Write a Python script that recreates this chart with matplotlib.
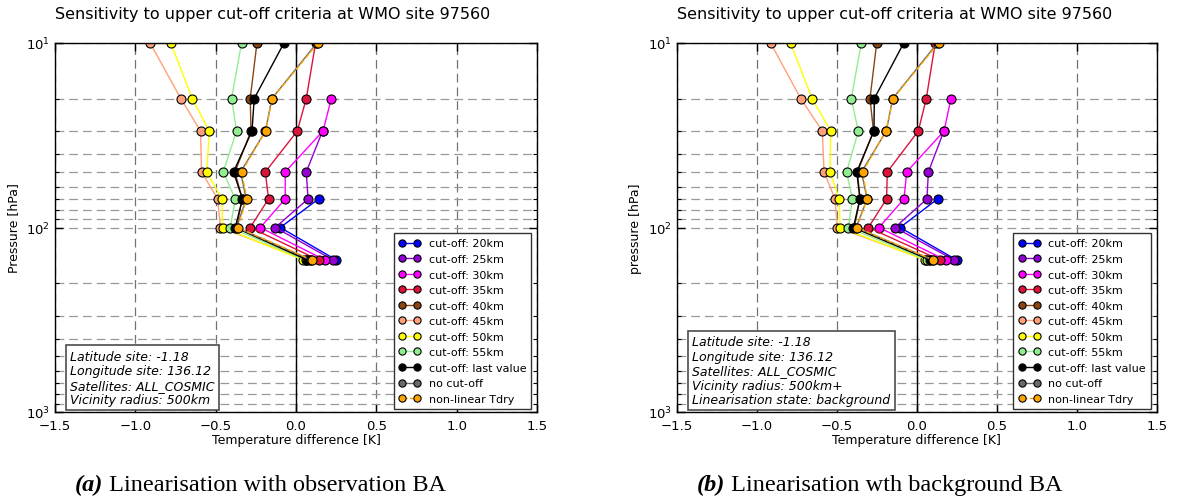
import numpy as np
import matplotlib
matplotlib.use('Agg')
import matplotlib.pyplot as plt
from matplotlib.ticker import LogLocator, NullFormatter

nan = np.nan

# ---------------- data ----------------
pressure_levels = [10, 20, 30, 50, 70, 100, 150]  # hPa

series_labels = ['cut-off: 20km', 'cut-off: 25km', 'cut-off: 30km', 'cut-off: 35km',
                 'cut-off: 40km', 'cut-off: 45km', 'cut-off: 50km', 'cut-off: 55km',
                 'cut-off: last value', 'no cut-off', 'non-linear Tdry']
series_colors = ['#0000ff', '#9400d3', '#ff00ff', '#dc143c', '#8b4513', '#ffa07a',
                 '#ffff00', '#90ee90', '#000000', '#696969', '#ffa500']

# (a) linearisation with observation BA
obs_cut20 = [nan, nan, nan, nan, 0.141, -0.098, 0.251]
obs_cut25 = [nan, nan, 0.165, 0.064, 0.075, -0.129, 0.230]
obs_cut30 = [nan, 0.220, 0.168, -0.067, -0.067, -0.222, 0.180]
obs_cut35 = [0.122, 0.064, 0.008, -0.191, -0.171, -0.285, 0.141]
obs_cut40 = [-0.243, -0.285, -0.280, -0.380, -0.335, -0.370, 0.085]
obs_cut45 = [-0.908, -0.717, -0.594, -0.588, -0.488, -0.470, 0.060]
obs_cut50 = [-0.779, -0.646, -0.540, -0.555, -0.461, -0.457, 0.045]
obs_cut55 = [-0.339, -0.401, -0.370, -0.453, -0.378, -0.409, 0.060]
obs_last = [-0.075, -0.260, -0.274, -0.389, -0.333, -0.378, 0.070]
obs_nocut = [0.130, -0.150, -0.190, -0.345, -0.310, -0.370, 0.095]
obs_nonlin = [0.137, -0.148, -0.189, -0.339, -0.305, -0.364, 0.100]

# (b) linearisation with background BA
bg_cut20 = [nan, nan, nan, nan, 0.131, -0.104, 0.250]
bg_cut25 = [nan, nan, 0.170, 0.073, 0.064, -0.136, 0.233]
bg_cut30 = [nan, 0.214, 0.171, -0.063, -0.079, -0.236, 0.181]
bg_cut35 = [0.116, 0.060, 0.010, -0.184, -0.188, -0.302, 0.146]
bg_cut40 = [-0.250, -0.292, -0.270, -0.370, -0.355, -0.390, 0.085]
bg_cut45 = [-0.913, -0.725, -0.590, -0.579, -0.511, -0.496, 0.060]
bg_cut50 = [-0.788, -0.654, -0.538, -0.542, -0.484, -0.479, 0.052]
bg_cut55 = [-0.346, -0.409, -0.365, -0.438, -0.402, -0.427, 0.065]
bg_last = [-0.081, -0.265, -0.267, -0.375, -0.354, -0.396, 0.083]
bg_nocut = [0.130, -0.150, -0.190, -0.345, -0.310, -0.378, 0.100]
bg_nonlin = [0.137, -0.148, -0.192, -0.338, -0.309, -0.375, 0.104]

obs_series = [obs_cut20, obs_cut25, obs_cut30, obs_cut35, obs_cut40, obs_cut45,
              obs_cut50, obs_cut55, obs_last, obs_nocut, obs_nonlin]
bg_series = [bg_cut20, bg_cut25, bg_cut30, bg_cut35, bg_cut40, bg_cut45,
             bg_cut50, bg_cut55, bg_last, bg_nocut, bg_nonlin]

x_ticks = [-1.5, -1.0, -0.5, 0.0, 0.5, 1.0, 1.5]
title = 'Sensitivity to upper cut-off criteria at WMO site 97560'
info_obs = ('Latitude site: -1.18\nLongitude site: 136.12\n'
            'Satellites: ALL_COSMIC\nVicinity radius: 500km')
info_bg = ('Latitude site: -1.18\nLongitude site: 136.12\n'
           'Satellites: ALL_COSMIC\nVicinity radius: 500km+\n'
           'Linearisation state: background')

plt.rcParams['font.family'] = ['DejaVu Sans']
plt.rcParams['xtick.direction'] = 'in'
plt.rcParams['ytick.direction'] = 'in'
plt.rcParams['xtick.top'] = True
plt.rcParams['ytick.right'] = True

fig = plt.figure(figsize=(11.8, 5.02), dpi=100)
W, H = 1180, 502


def make_axes(left_px, right_px):
    return fig.add_axes([left_px / W, 1 - 413 / H, (right_px - left_px) / W, (413 - 44) / H])


def draw_panel(ax, series, ylabel, info):
    for vals, lab, col in zip(series, series_labels, series_colors):
        ls = '--' if lab == 'non-linear Tdry' else '-'
        ax.plot(vals, pressure_levels, ls, color=col, marker='o', markersize=6.5,
                markeredgecolor='black', markeredgewidth=0.8, lw=1.0, label=lab)
    ax.axvline(0, color='black', lw=1.0, zorder=1)
    ax.set_yscale('log')
    ax.set_ylim(1000, 10)
    ax.set_xlim(-1.5, 1.5)
    ax.set_xticks(x_ticks)
    ax.yaxis.set_major_locator(LogLocator(base=10))
    ax.yaxis.set_minor_locator(LogLocator(base=10, subs=np.arange(2, 10)))
    ax.yaxis.set_minor_formatter(NullFormatter())
    ax.grid(True, which='major', axis='x', color='0.45', ls=(0, (7, 4)), lw=0.9)
    ax.grid(True, which='both', axis='y', color='0.6', ls=(0, (7, 4)), lw=0.9)
    ax.set_axisbelow(True)
    ax.tick_params(which='major', length=6, width=1, labelsize=9.5)
    ax.tick_params(axis='x', which='major', pad=5)
    ax.tick_params(which='minor', length=3, width=0.8)
    for s in ax.spines.values():
        s.set_linewidth(1.0)
    ax.set_title(title, loc='left', fontsize=11.5, pad=18)
    ax.set_xlabel('Temperature difference [K]', fontsize=9, labelpad=1)
    ax.set_ylabel(ylabel, fontsize=9)
    leg = ax.legend(loc='lower right', bbox_to_anchor=(0.988, 0.008), borderaxespad=0,
                    fontsize=8, numpoints=2, handlelength=2.0, labelspacing=0.5,
                    handletextpad=0.7, borderpad=0.45, fancybox=False,
                    edgecolor='0.2', framealpha=1, markerscale=0.8)
    leg.get_frame().set_linewidth(1.0)
    ax.text(0.032, 0.016, info, transform=ax.transAxes, fontsize=9, style='italic',
            ha='left', va='bottom', linespacing=1.15,
            bbox=dict(boxstyle='square,pad=0.35', fc='white', ec='0.3', lw=1.2))


ax1 = make_axes(55, 537)
draw_panel(ax1, obs_series, 'Pressure [hPa]', info_obs)
ax2 = make_axes(676.7, 1156.7)
draw_panel(ax2, bg_series, 'pressure [hPa]', info_bg)

serif = ['Liberation Serif', 'DejaVu Serif']


def caption(x_px, tag, rest):
    t1 = fig.text(x_px / W, 1 - 491 / H, tag, fontsize=17.5, family=serif,
                  weight='bold', style='italic', ha='left', va='baseline')
    fig.canvas.draw()
    ann = fig.add_artist(matplotlib.text.Annotation(
        rest, xy=(1, 1 - 491 / H), xycoords=(t1, 'figure fraction'),
        fontsize=17.5, family=serif, ha='left', va='baseline',
        annotation_clip=False))
    return ann


caption(75, '(a)', ' Linearisation with observation BA')
caption(697, '(b)', ' Linearisation wth background BA')

fig.savefig('out.png', dpi=100)
